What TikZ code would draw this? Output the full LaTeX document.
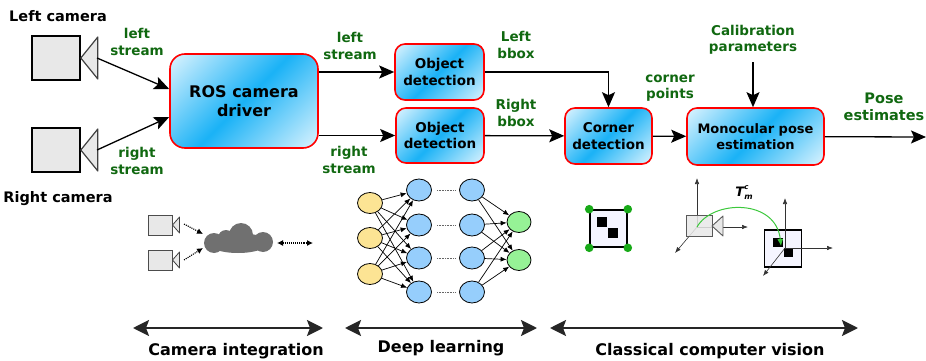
\documentclass[tikz,border=0pt]{standalone}
\usepackage{fontspec}
\setmainfont{DejaVu Sans}
\usetikzlibrary{arrows.meta,shapes.geometric}

\definecolor{boxblue}{RGB}{26,178,246}
\definecolor{boxlight}{RGB}{236,249,255}
\definecolor{lblgreen}{RGB}{16,104,16}
\definecolor{camfill}{RGB}{232,232,232}
\definecolor{cloudgray}{RGB}{112,112,112}
\definecolor{inyellow}{RGB}{252,228,148}
\definecolor{hidblue}{RGB}{150,206,252}
\definecolor{outgreen}{RGB}{150,242,150}
\definecolor{dotgreen}{RGB}{24,170,24}
\definecolor{arcgreen}{RGB}{60,200,60}

\pgfdeclarehorizontalshading{boxshade}{100bp}{color(0bp)=(boxlight); color(12bp)=(boxlight);
  color(50bp)=(boxblue); color(88bp)=(boxlight); color(100bp)=(boxlight)}

\begin{document}
\begin{tikzpicture}[x=1pt, y=-1pt,
  box/.style={draw=red, line width=1.6pt, rounded corners=10pt, shading=boxshade,
    shading angle=-45, align=center, inner sep=0pt,
    font=\fontsize{13.5}{16.5}\selectfont\bfseries},
  lbl/.style={text=lblgreen, align=center, font=\fontsize{13.5}{16.5}\selectfont\bfseries},
  title/.style={font=\fontsize{14.5}{16}\selectfont\bfseries},
  stage/.style={font=\fontsize{16}{18}\selectfont\bfseries},
  flow/.style={line width=1.3pt, -{Stealth[length=15pt, width=13pt, inset=3pt]}},
  span/.style={line width=2.4pt, black!85,
    {Stealth[length=16pt, width=16pt, inset=3pt]}-{Stealth[length=16pt, width=16pt, inset=3pt]}},
  cam/.style={draw, line width=1.6pt, fill=camfill, inner sep=0pt},
  lens/.style={draw=black!75, fill=camfill, line width=1.2pt, line join=round},
  hint/.style={densely dotted, line width=1.1pt, -{Latex[length=6pt, width=6pt]}},
  unit/.style={ellipse, draw, line width=0.8pt, minimum width=25pt, minimum height=22pt, inner sep=0pt},
  wt/.style={line width=0.7pt, -{Latex[length=6pt, width=5pt]}},
  tag/.style={draw, line width=1.6pt, fill=white!96!blue, minimum size=37pt, inner sep=0pt},
  axis/.style={line width=0.6pt, black!80, -{Latex[length=6pt, width=4.5pt]}}]
  \useasboundingbox (0,0) rectangle (926,361);

  % stereo pair
  \node[title] at (58,16) {Left camera};
  \node[title] at (58,199) {Right camera};
  \node[cam, minimum width=48pt, minimum height=44pt] (lcam) at (56,58) {};
  \node[cam, minimum width=48pt, minimum height=44pt] (rcam) at (56,150) {};
  \draw[lens] (lcam.east) -- ++(17,-21) -- ++(0,42) -- cycle;
  \draw[lens] (rcam.east) -- ++(17,-21) -- ++(0,42) -- cycle;
  \coordinate (llens) at (97,58);
  \coordinate (rlens) at (97,150);

  % processing chain
  \node[box, rounded corners=15pt, minimum width=148pt, minimum height=94pt,
    font=\fontsize{16}{19}\selectfont\bfseries] (ros) at (244,101) {ROS camera\\driver};
  \node[box, minimum width=89pt, minimum height=56pt] (odl) at (439.5,72) {Object\\detection};
  \node[box, minimum width=88pt, minimum height=55pt] (odr) at (440,135.5) {Object\\detection};
  \node[box, minimum width=87pt, minimum height=56pt] (corner) at (608.5,136) {Corner\\detection};
  \node[box, minimum width=137pt, minimum height=57pt,
    font=\fontsize{13}{16.5}\selectfont\bfseries] (pose) at (755.5,136.5) {Monocular pose\\estimation};
  \coordinate (out) at (926,137);

  \draw[flow] (llens) -- ([yshift=12pt]ros.west);
  \draw[flow] (rlens) -- ([yshift=-16pt]ros.west);
  \draw[flow] (ros.east |- odl) -- (odl);
  \draw[flow] (ros.east |- odr) -- (odr);
  \draw[flow] (odl) -| (corner);
  \draw[flow] (odr) -- (corner);
  \draw[flow] (corner) -- (pose);
  \draw[flow] (pose) -- (out);

  % stream labels
  \node[lbl] at (137,42) {left\\stream};
  \node[lbl] at (137,161) {right\\stream};
  \node[lbl] at (350,46) {left\\stream};
  \node[lbl] at (349,160) {right\\stream};
  \node[lbl] at (516,45) {Left\\bbox};
  \node[lbl] at (516,113) {Right\\bbox};
  \node[lbl] at (670,88) {corner\\points};
  \node[lbl] (calib) at (753,40) {Calibration\\parameters};
  \draw[flow] ([yshift=-4pt]calib.south) -- (pose.north -| calib.south);
  \node[lbl, font=\fontsize{14.5}{17}\selectfont\bfseries] at (884,107) {Pose\\estimates};

  % camera integration sketch
  \node[cam, draw=black!70, line width=1pt, minimum width=24pt, minimum height=20pt] (c1) at (160,225) {};
  \node[cam, draw=black!70, line width=1pt, minimum width=24pt, minimum height=20pt] (c2) at (160,260) {};
  \draw[lens, line width=0.8pt] (c1.east) -- ++(7,-8) -- ++(0,16) -- cycle;
  \draw[lens, line width=0.8pt] (c2.east) -- ++(7,-8) -- ++(0,16) -- cycle;
  \fill[cloudgray] (238,243) ellipse (30 and 10);
  \fill[cloudgray] (241,235) circle (12);
  \fill[cloudgray] (214,243) circle (10);
  \fill[cloudgray] (263,242) circle (10);
  \fill[cloudgray] (226,238) circle (8);
  \coordinate (cin1) at (203,234);
  \coordinate (cin2) at (203,248);
  \draw[hint] (184,224) -- (cin1);
  \draw[hint] (184,260) -- (cin2);
  \draw[hint, {Latex[length=6pt, width=6pt]}-{Latex[length=6pt, width=6pt]}] (277,243) -- (313,243);

  % network
  \foreach \y [count=\i] in {203,238,274}
    \node[unit, fill=inyellow, minimum height=21pt] (i\i) at (370,\y) {};
  \foreach \y [count=\i] in {190,225,258,292} {
    \node[unit, fill=hidblue] (h\i) at (419,\y) {};
    \node[unit, fill=hidblue] (g\i) at (472,\y) {};
    \draw[densely dotted, black!60, line width=0.6pt] (437,\y) -- (455,\y);
  }
  \foreach \y [count=\i] in {222,260}
    \node[unit, fill=outgreen, minimum width=24pt, minimum height=21pt] (o\i) at (519,\y) {};
  \foreach \i in {1,2,3}
    \foreach \j in {1,...,4}
      \draw[wt] (i\i) -- (h\j);
  \foreach \j in {1,...,4}
    \foreach \k in {1,2}
      \draw[wt] (g\j) -- (o\k);

  % detected corners
  \node[tag] (cm) at (608.5,228.5) {};
  \fill (597,217) rectangle (607,227);
  \fill (608,228) rectangle (618,238);
  \fill[dotgreen] (cm.north west) circle (4.3);
  \fill[dotgreen] (cm.north east) circle (4.3);
  \fill[dotgreen] (cm.south west) circle (4.3);
  \fill[dotgreen] (cm.south east) circle (4.3);

  % camera and marker frames
  \coordinate (co) at (697,227);
  \draw[axis] (co) -- (697,178);
  \draw[axis] (co) -- (748,227);
  \draw[axis] (co) -- (675,253);
  \fill[camfill, fill opacity=0.85] (686,215) rectangle (712,236);
  \draw[black!65, line width=0.9pt] (686,215) rectangle (712,236);
  \draw[lens, draw=black!65, line width=0.9pt] (712,226) -- (723,216) -- (723,236) -- cycle;
  \node[tag] (mk) at (783,248.5) {};
  \fill (773,238) rectangle (783,247);
  \fill (784,248) rectangle (793,257);
  \coordinate (mo) at (785,248);
  \draw[axis] (mo) -- (785,198);
  \draw[axis] (mo) -- (833,248);
  \draw[axis] (mo) -- (763,276);
  \draw[arcgreen, line width=1pt, -{Latex[length=7pt, width=6pt]}]
    (co) .. controls (712,200) and (776,198) .. (781,246);
  \node[font=\fontsize{13}{14}\selectfont\bfseries\itshape] at (744,193)
    {T\rlap{\raisebox{6.5pt}{\fontsize{7}{8}\selectfont c}}\raisebox{-3.5pt}{\fontsize{8}{9}\selectfont m}};

  % stages
  \coordinate (s1a) at (133,328);
  \coordinate (s1b) at (323,328);
  \coordinate (s2a) at (345,328);
  \coordinate (s2b) at (537,328);
  \coordinate (s3a) at (550,328);
  \coordinate (s3b) at (858,328);
  \draw[span] (s1a) -- (s1b);
  \draw[span] (s2a) -- (s2b);
  \draw[span] (s3a) -- (s3b);
  \node[stage] at (236,351) {Camera integration};
  \node[stage] at (441,348) {Deep learning};
  \node[stage] at (710,351) {Classical computer vision};
\end{tikzpicture}
\end{document}
